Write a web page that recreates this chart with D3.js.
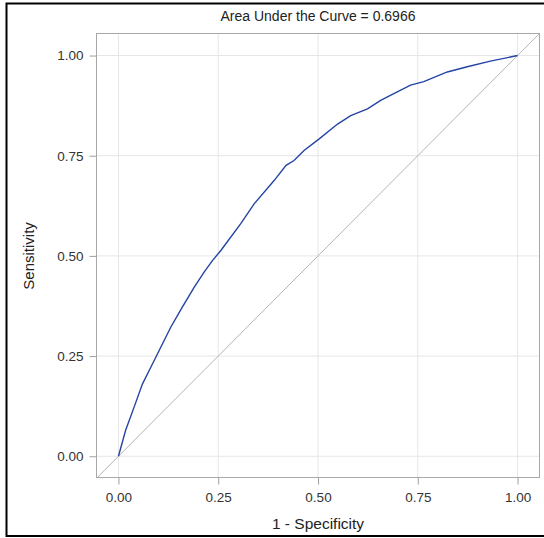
<!DOCTYPE html>
<html>
<head>
<meta charset="utf-8">
<script src="https://cdn.jsdelivr.net/npm/d3@7"></script>
<style>
  body { margin: 0; background: #fff; }
  text { font-family: "Liberation Sans", Arial, sans-serif; }
</style>
</head>
<body>
<div id="chart"></div>
<script>
var width = 544, height = 538;

// ROC curve points
var fpr = [0, 0.018, 0.039, 0.06, 0.077, 0.102, 0.131, 0.16, 0.19, 0.215, 0.236, 0.257,
           0.306, 0.34, 0.39, 0.42, 0.44, 0.465, 0.503, 0.549, 0.582, 0.624, 0.657,
           0.69, 0.732, 0.765, 0.824, 0.874, 0.932, 1.0];
var tpr = [0, 0.065, 0.122, 0.18, 0.214, 0.264, 0.322, 0.372, 0.422, 0.46, 0.489, 0.514,
           0.58, 0.63, 0.688, 0.726, 0.738, 0.763, 0.792, 0.829, 0.85, 0.867, 0.888,
           0.905, 0.926, 0.935, 0.959, 0.972, 0.986, 1.0];
var ticks = [0, 0.25, 0.5, 0.75, 1];
var title = "Area Under the Curve = 0.6966";

var svg = d3.select('#chart')
  .append('svg')
  .attr('width', width)
  .attr('height', height);

// outer frame (black, no right side visible)
svg.append('path')
  .attr('d', 'M' + width + ',3.5H6.5V536H' + width)
  .attr('fill', 'none')
  .attr('stroke', '#000')
  .attr('stroke-width', 2);

var pLeft = 96.5, pRight = 539.5, pTop = 33.5, pBottom = 477.5;

var x = d3.scaleLinear().domain([-0.055, 1.055]).range([pLeft, pRight]);
var y = d3.scaleLinear().domain([-0.053, 1.055]).range([pBottom, pTop]);

var g = svg.append('g');

// gridlines
g.selectAll('.gx').data(ticks).enter().append('line')
  .attr('x1', function(d) { return x(d); })
  .attr('x2', function(d) { return x(d); })
  .attr('y1', pTop).attr('y2', pBottom)
  .attr('stroke', '#e6e6e6').attr('stroke-width', 1);
g.selectAll('.gy').data(ticks).enter().append('line')
  .attr('y1', function(d) { return y(d); })
  .attr('y2', function(d) { return y(d); })
  .attr('x1', pLeft).attr('x2', pRight)
  .attr('stroke', '#e6e6e6').attr('stroke-width', 1);

// diagonal reference line, clipped to the plot
svg.append('clipPath').attr('id', 'clip')
  .append('rect')
  .attr('x', pLeft).attr('y', pTop)
  .attr('width', pRight - pLeft).attr('height', pBottom - pTop);

g.append('line')
  .attr('clip-path', 'url(#clip)')
  .attr('x1', x(-0.06)).attr('y1', y(-0.06))
  .attr('x2', x(1.06)).attr('y2', y(1.06))
  .attr('stroke', '#b4b4b4').attr('stroke-width', 1);

// axes
var fmt = d3.format('.2f');
var xAxis = g.append('g')
  .attr('transform', 'translate(0,' + pBottom + ')')
  .call(d3.axisBottom(x).tickValues(ticks).tickFormat(fmt).tickSize(7).tickPadding(6));
var yAxis = g.append('g')
  .attr('transform', 'translate(' + pLeft + ',0)')
  .call(d3.axisLeft(y).tickValues(ticks).tickFormat(fmt).tickSize(7).tickPadding(6));

[xAxis, yAxis].forEach(function(a) {
  a.select('.domain').remove();
  a.selectAll('line').attr('stroke', '#a0a0a0');
  a.selectAll('text')
    .attr('fill', '#333')
    .style('font-size', '13.5px')
    .style('font-family', '"Liberation Sans", Arial, sans-serif');
});
xAxis.selectAll('text').attr('dy', '0.85em');

// plot frame
g.append('rect')
  .attr('x', pLeft).attr('y', pTop)
  .attr('width', pRight - pLeft).attr('height', pBottom - pTop)
  .attr('fill', 'none')
  .attr('stroke', '#a8a8a8').attr('stroke-width', 1);

// ROC curve
var pts = fpr.map(function(d, i) { return [d, tpr[i]]; });
g.append('path')
  .datum(pts)
  .attr('d', d3.line()
    .x(function(d) { return x(d[0]); })
    .y(function(d) { return y(d[1]); }))
  .attr('fill', 'none')
  .attr('stroke', '#2444a4')
  .attr('stroke-width', 1.4);

// titles
svg.append('text')
  .attr('x', (pLeft + pRight) / 2).attr('y', 21)
  .attr('text-anchor', 'middle')
  .attr('fill', '#222')
  .style('font-size', '14px')
  .text(title);

svg.append('text')
  .attr('x', (pLeft + pRight) / 2).attr('y', 529)
  .attr('text-anchor', 'middle')
  .attr('fill', '#222')
  .style('font-size', '15.5px')
  .text('1 - Specificity');

svg.append('text')
  .attr('transform', 'translate(34,' + y(0.5) + ')rotate(-90)')
  .attr('text-anchor', 'middle')
  .attr('fill', '#222')
  .style('font-size', '15px')
  .text('Sensitivity');
</script>
</body>
</html>
